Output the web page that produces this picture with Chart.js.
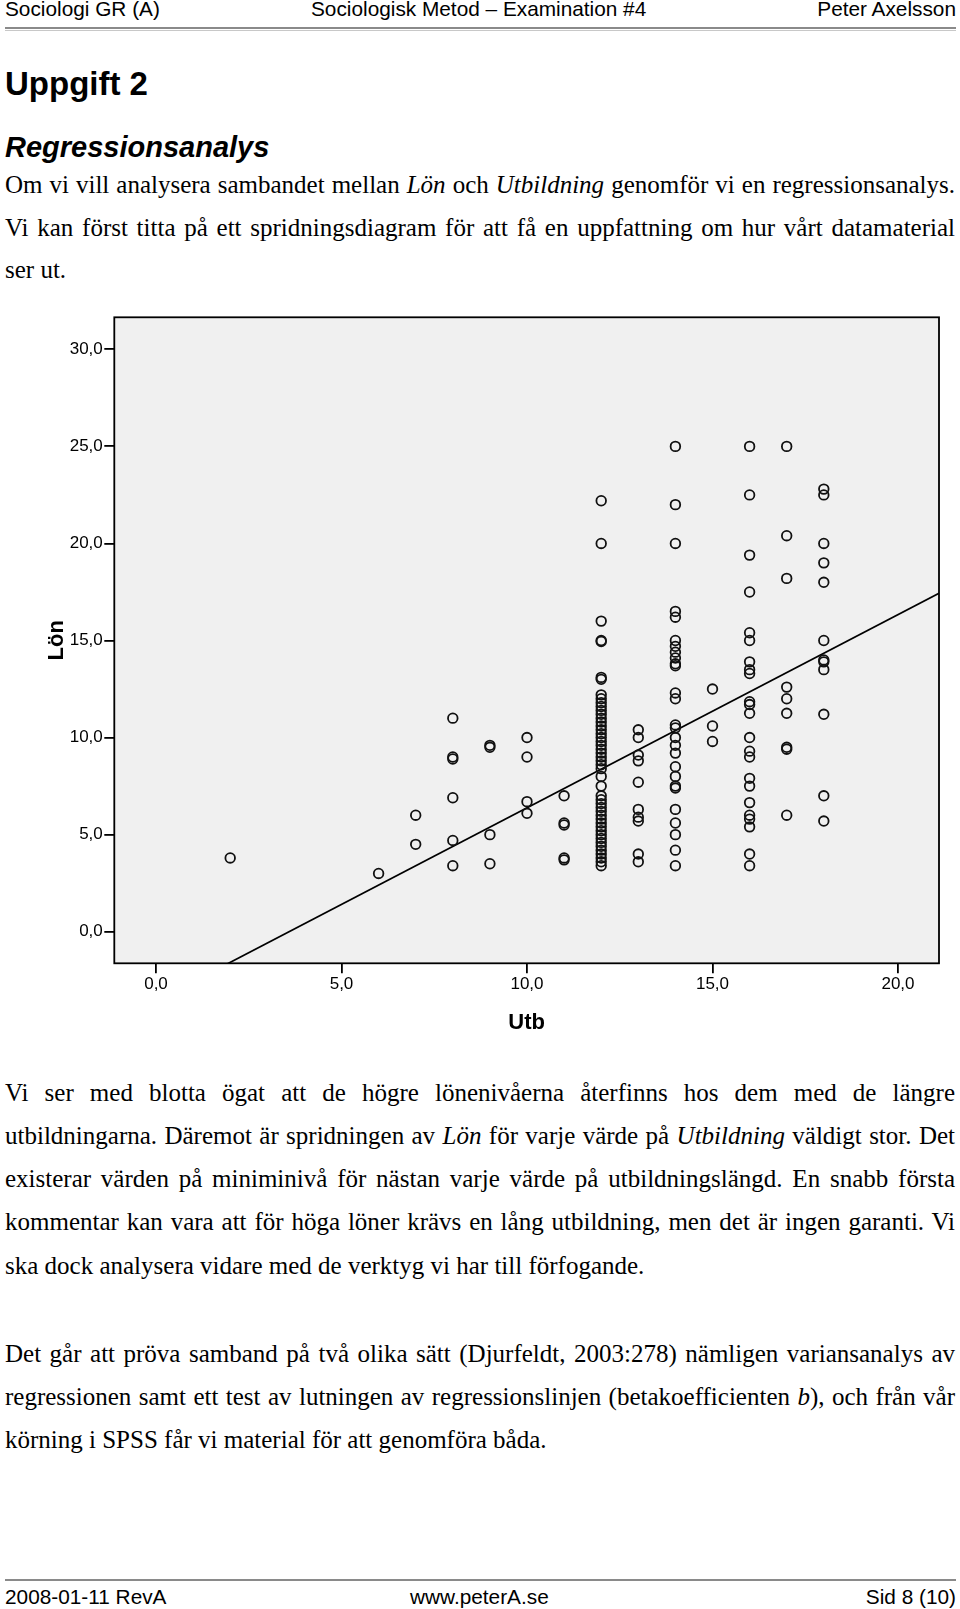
<!DOCTYPE html>
<html><head><meta charset="utf-8">
<script src="https://cdn.jsdelivr.net/npm/chart.js@4.4.0/dist/chart.umd.min.js"></script>
<style>
html,body{margin:0;padding:0;background:#fff;}
body{width:960px;height:1609px;position:relative;overflow:hidden;}
.t{position:absolute;color:#000;}
.hdr{font-family:"Liberation Sans",Arial,sans-serif;font-size:20.8px;line-height:24px;white-space:nowrap;}
.bd{font-family:"Liberation Serif","Times New Roman",serif;font-size:25px;line-height:43px;left:5px;width:950px;height:43px;white-space:normal;}
.j{text-align:justify;text-align-last:justify;}
.h1{font-family:"Liberation Sans",Arial,sans-serif;font-weight:bold;font-size:33px;line-height:40px;left:5px;white-space:nowrap;}
.h2{font-family:"Liberation Sans",Arial,sans-serif;font-weight:bold;font-style:italic;font-size:29px;line-height:36px;left:5px;white-space:nowrap;}
.rule{position:absolute;left:5px;width:951px;}
#wrap{position:absolute;left:0;top:300px;width:960px;height:760px;}
</style></head>
<body>
<div class="t hdr" style="left:5px;top:-3px;">Sociologi GR (A)</div>
<div class="t hdr" style="left:311px;top:-3px;">Sociologisk Metod – Examination #4</div>
<div class="t hdr" style="right:4px;top:-3px;">Peter Axelsson</div>
<div class="rule" style="top:27px;border-top:2px solid #8a8a8a;border-bottom:1px solid #c8c8c8;height:1px;"></div>

<div class="t h1" style="top:63.8px;">Uppgift 2</div>
<div class="t h2" style="top:128.5px;">Regressionsanalys</div>

<div class="t bd j" style="top:163px;">Om vi vill analysera sambandet mellan <i>Lön</i> och <i>Utbildning</i> genomför vi en regressionsanalys.</div>
<div class="t bd j" style="top:205.5px;">Vi kan först titta på ett spridningsdiagram för att få en uppfattning om hur vårt datamaterial</div>
<div class="t bd" style="top:248px;">ser ut.</div>

<div id="wrap"><canvas id="c" width="960" height="760"></canvas></div>

<div class="t bd j" style="top:1071px;">Vi ser med blotta ögat att de högre lönenivåerna återfinns hos dem med de längre</div>
<div class="t bd j" style="top:1114.1px;">utbildningarna. Däremot är spridningen av <i>Lön</i> för varje värde på <i>Utbildning</i> väldigt stor. Det</div>
<div class="t bd j" style="top:1157.2px;">existerar värden på miniminivå för nästan varje värde på utbildningslängd. En snabb första</div>
<div class="t bd j" style="top:1200.2px;">kommentar kan vara att för höga löner krävs en lång utbildning, men det är ingen garanti. Vi</div>
<div class="t bd" style="top:1244.3px;">ska dock analysera vidare med de verktyg vi har till förfogande.</div>

<div class="t bd j" style="top:1331.5px;">Det går att pröva samband på två olika sätt (Djurfeldt, 2003:278) nämligen variansanalys av</div>
<div class="t bd j" style="top:1374.6px;">regressionen samt ett test av lutningen av regressionslinjen (betakoefficienten <i>b</i>), och från vår</div>
<div class="t bd" style="top:1417.7px;">körning i SPSS får vi material för att genomföra båda.</div>

<div class="rule" style="top:1579px;border-top:2px solid #8a8a8a;height:0;"></div>
<div class="t hdr" style="left:5px;top:1585px;">2008-01-11 RevA</div>
<div class="t hdr" style="left:410px;top:1585px;">www.peterA.se</div>
<div class="t hdr" style="right:4px;top:1585px;">Sid 8 (10)</div>

<script>
// ---- data: Lön (y) per level of Utb (x) ----
const utbLevels = [2, 6, 7, 8, 9, 10, 11, 12, 13, 14, 15, 16, 17, 18];
const lon_02 = [3.8];
const lon_06 = [3.0];
const lon_07 = [6.0, 4.5];
const lon_08 = [11.0, 9.0, 8.9, 6.9, 4.7, 3.4];
const lon_09 = [9.6, 9.5, 5.0, 3.5];
const lon_10 = [10.0, 9.0, 6.7, 6.1];
const lon_11 = [7.0, 5.6, 5.5, 3.8, 3.7];
const lon_12 = [22.2, 20.0, 16.0, 15.0, 14.95, 13.1, 13.0, 12.2, 12.0, 11.8, 11.6, 11.4, 11.2, 11.0, 10.8,
                10.6, 10.4, 10.2, 10.0, 9.8, 9.6, 9.4, 9.2, 9.0, 8.8, 8.6, 8.4, 8.0, 7.5, 7.0, 6.8, 6.6,
                6.4, 6.2, 6.0, 5.8, 5.6, 5.4, 5.2, 5.0, 4.8, 4.6, 4.4, 4.2, 4.0, 3.8, 3.6, 3.4];
const lon_13 = [10.4, 10.0, 9.1, 8.8, 7.7, 6.3, 5.9, 5.7, 4.0, 3.6];
const lon_14 = [25.0, 22.0, 20.0, 16.5, 16.2, 15.0, 14.7, 14.4, 14.1, 13.8, 13.7, 12.3, 12.0, 10.65, 10.5,
                10.0, 9.6, 9.2, 8.5, 8.0, 7.5, 7.4, 6.3, 5.6, 5.0, 4.2, 3.4];
const lon_15 = [12.5, 10.6, 9.8];
const lon_16 = [25.0, 22.5, 19.4, 17.5, 15.4, 15.0, 13.9, 13.5, 13.3, 11.85, 11.7, 11.25, 10.0, 9.3, 9.0,
                7.9, 7.5, 6.65, 6.0, 5.8, 5.4, 4.0, 3.4];
const lon_17 = [25.0, 20.4, 18.2, 12.6, 12.0, 11.25, 9.5, 9.4, 6.0];
const lon_18 = [22.8, 22.5, 20.0, 19.0, 18.0, 15.0, 14.0, 13.9, 13.5, 11.2, 7.0, 5.7];
const lonByLevel = [lon_02, lon_06, lon_07, lon_08, lon_09, lon_10, lon_11, lon_12, lon_13, lon_14, lon_15, lon_16, lon_17, lon_18];

// tick labels
const utbTicks = [0, 5, 10, 15, 20];
const lonTicks = [0, 5, 10, 15, 20, 25, 30];
// regression line
const regIntercept = -3.57;
const regSlope = 0.995;
// axis ranges
const utbRange = [-1.124, 21.105];
const lonRange = [-1.628, 31.65];

const points = [];
utbLevels.forEach((u, i) => lonByLevel[i].forEach(v => points.push({x: u, y: v})));
const regLine = utbRange.map(u => ({x: u, y: regIntercept + regSlope * u}));

const fmt = v => Number(v).toFixed(1).replace('.', ',');
const FONT = '"Liberation Sans", Arial, sans-serif';

const frame = {
  id: 'frame',
  beforeDraw(chart) {
    const {ctx, chartArea: a} = chart;
    ctx.save();
    ctx.fillStyle = '#f0f0f0';
    ctx.fillRect(a.left, a.top, a.right - a.left, a.bottom - a.top);
    ctx.restore();
  },
  afterDraw(chart) {
    const {ctx, chartArea: a} = chart;
    ctx.save();
    ctx.strokeStyle = '#000';
    ctx.lineWidth = 1.8;
    ctx.strokeRect(a.left, a.top, a.right - a.left, a.bottom - a.top);
    ctx.restore();
  }
};

new Chart(document.getElementById('c'), {
  type: 'scatter',
  data: {
    datasets: [
      {
        data: points,
        pointStyle: 'circle',
        pointRadius: 4.8,
        pointBorderWidth: 1.8,
        borderColor: '#111',
        backgroundColor: 'rgba(0,0,0,0)',
        pointBackgroundColor: 'rgba(0,0,0,0)',
        pointBorderColor: '#111'
      },
      {
        type: 'line',
        data: regLine,
        showLine: true,
        borderColor: '#000',
        borderWidth: 1.7,
        pointRadius: 0,
        fill: false
      }
    ]
  },
  plugins: [frame],
  options: {
    responsive: false,
    animation: false,
    devicePixelRatio: 1,
    layout: {padding: {top: 17.3, right: 21, left: 0, bottom: 0}},
    plugins: {legend: {display: false}, tooltip: {enabled: false}},
    scales: {
      x: {
        type: 'linear', position: 'bottom',
        min: utbRange[0], max: utbRange[1],
        afterBuildTicks: s => { s.ticks = utbTicks.map(v => ({value: v})); },
        afterFit: s => { s.height = 96.7; },
        ticks: {callback: v => fmt(v), color: '#000', padding: 1, maxRotation: 0, autoSkip: false,
                font: {family: FONT, size: 17}},
        grid: {drawOnChartArea: false, drawTicks: true, tickLength: 10, color: '#000', lineWidth: 1.8},
        border: {display: false},
        title: {display: true, text: 'Utb', color: '#000', font: {family: FONT, size: 22, weight: 'bold'},
                padding: {top: 0, bottom: 24.3}}
      },
      y: {
        type: 'linear', position: 'left',
        min: lonRange[0], max: lonRange[1],
        afterBuildTicks: s => { s.ticks = lonTicks.map(v => ({value: v})); },
        afterFit: s => { s.width = 114.3; },
        ticks: {callback: v => fmt(v), color: '#000', padding: 1.5, autoSkip: false,
                font: {family: FONT, size: 17}},
        grid: {drawOnChartArea: false, drawTicks: true, tickLength: 10, color: '#000', lineWidth: 1.8},
        border: {display: false},
        title: {display: true, text: 'Lön', color: '#000', font: {family: FONT, size: 22, weight: 'bold'},
                padding: {top: 44, bottom: 0}}
      }
    }
  }
});
</script>
</body></html>
